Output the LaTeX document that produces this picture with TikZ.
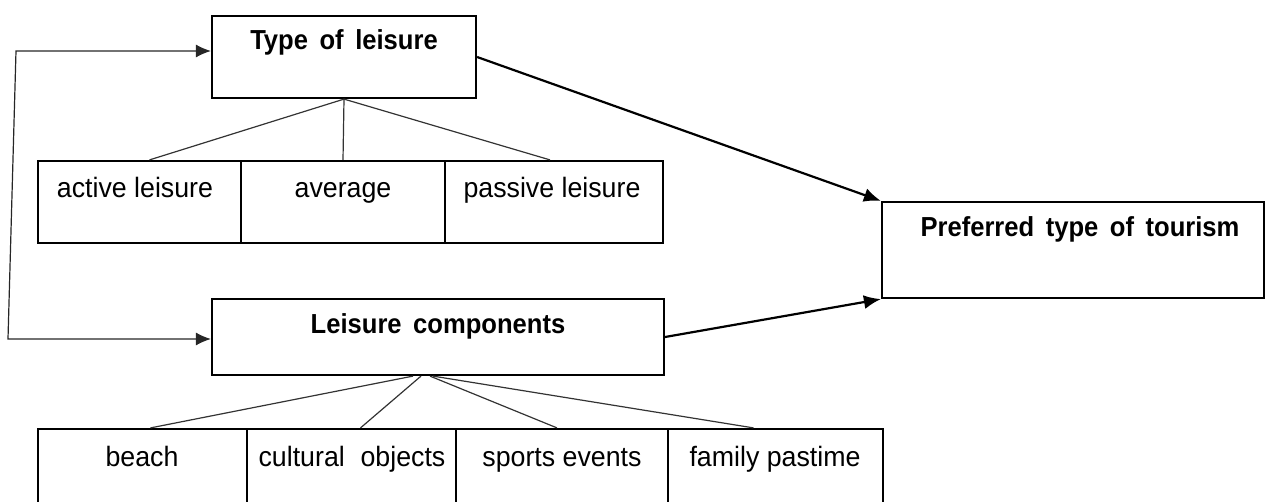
\documentclass[tikz,border=0pt]{standalone}
\usepackage{fontspec}
\setmainfont{Liberation Sans}
\newfontfamily\regfam{Liberation Sans}[FakeStretch=0.955]
\newfontfamily\boldfam{Liberation Sans}[FakeStretch=0.93]
\usetikzlibrary{arrows.meta,fit,calc}
\newcommand{\boldtxt}{\boldfam\fontsize{13.75}{16}\selectfont\bfseries\spaceskip=0.42em\relax}
\newcommand{\regtxt}{\regfam\fontsize{14}{16}\selectfont}
\begin{document}
\begin{tikzpicture}[x=0.5pt,y=-0.5pt,
  box/.style={draw=black, line width=1.1pt, inner sep=0pt},
  bold/.style={anchor=base, inner sep=0pt, font=\boldtxt},
  reg/.style={anchor=base, inner sep=0pt, font=\regtxt},
  thinline/.style={draw=black!80, line width=0.6pt},
  bigarrow/.style={draw=black, line width=1.1pt, -{Latex[length=8.5pt,width=7pt]}},
  fbarrow/.style={draw=black!85, line width=0.6pt, {Latex[length=7.5pt,width=6.5pt]}-{Latex[length=7.5pt,width=6.5pt]}}]
\useasboundingbox (0,0) rectangle (1269,502);
% main boxes
\node[box, fit={(212,16) (476,98)}] (tl) {};
\node[bold] (tlt) at (344,50) {Type of leisure};
\node[box, fit={(212,299) (664,375)}] (lc) {};
\node[bold] (lct) at (438,334) {Leisure components};
\node[box, fit={(882,202) (1264,298)}] (pt) {};
\node[bold] (ptt) at (1080,237) {Preferred type of tourism};
% row 1
\node[box, fit={(38,161) (241,243)}] (a1) {};
\node[box, fit={(241,161) (445,243)}] (a2) {};
\node[box, fit={(445,161) (663,243)}] (a3) {};
\node[reg] (a1t) at (135,198) {active leisure};
\node[reg] (a2t) at (343,198) {average};
\node[reg] (a3t) at (552,198) {passive leisure};
% row 2
\node[box, fit={(38,429) (247,515)}] (b1) {};
\node[box, fit={(247,429) (456,515)}] (b2) {};
\node[box, fit={(456,429) (668,515)}] (b3) {};
\node[box, fit={(668,429) (883,515)}] (b4) {};
\node[reg] (b1t) at (142,466) {beach};
\node[reg] (b2t) at (352,466) {cultural\hspace{0.3em} objects};
\node[reg] (b3t) at (562,466) {sports events};
\node[reg] (b4t) at (775,466) {family pastime};
% tree connectors (row 1)
\draw[thinline] (tl.south) -- ([xshift=5pt]a1.north);
\draw[thinline] (tl.south) -- (a2.north);
\draw[thinline] (tl.south) -- ([xshift=-2pt]a3.north);
% tree connectors (row 2)
\draw[thinline] ([xshift=-12.5pt]lc.south) -- ([xshift=4pt]b1.north);
\draw[thinline] ([xshift=-8.5pt]lc.south) -- ([xshift=4.5pt]b2.north);
\draw[thinline] ([xshift=-4pt]lc.south) -- ([xshift=-2.5pt]b3.north);
\draw[thinline] ([xshift=-2.5pt]lc.south) -- ([xshift=-11pt]b4.north);
% arrows to preferred type
\draw[bigarrow] (tl.east) -- (pt.north west);
\draw[bigarrow] (lc.east) -- (pt.south west);
% feedback loop
\coordinate (fbT) at (16,51);
\coordinate (fbB) at (8,339);
\draw[fbarrow] (tl.west |- fbT) -- (fbT) -- (fbB) -- (lc.west |- fbB);
\end{tikzpicture}
\end{document}
